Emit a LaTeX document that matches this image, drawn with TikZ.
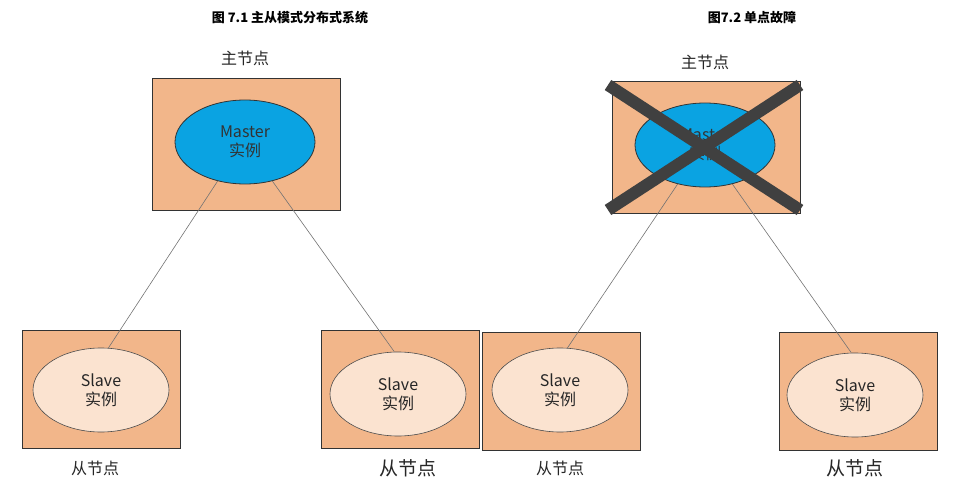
\documentclass[tikz,border=0pt]{standalone}
\usepackage{fontspec}
\setmainfont{Noto Sans CJK SC}
\usetikzlibrary{shapes.geometric}
\definecolor{boxc}{HTML}{F2B68A}
\definecolor{mast}{HTML}{0AA3E2}
\definecolor{slv}{HTML}{FBE3D0}
\tikzset{x=1pt,y=-1pt,
 nbox/.style={draw=black!80,fill=boxc,line width=0.6pt,minimum width=158pt,minimum height=118pt,inner sep=0},
 mbox/.style={nbox,minimum width=188pt,minimum height=132pt},
 mell/.style={ellipse,draw=black!80,fill=mast,line width=0.8pt,minimum width=140pt,minimum height=84pt,align=center,font=\fontsize{16}{19}\selectfont,text=black!80},
 sell/.style={ellipse,draw=black!70,fill=slv,line width=0.6pt,minimum width=136pt,minimum height=84pt,align=center,font=\fontsize{16}{19}\selectfont,text=black!85},
 lab/.style={font=\fontsize{16}{19}\selectfont,text=black!85},
 conn/.style={draw=black!55,line width=0.6pt},
 cross/.style={draw=black!75,line width=12pt}}
\begin{document}
\begin{tikzpicture}
\useasboundingbox (0,0) rectangle (959,492);
\node[font=\bfseries\fontsize{13}{15}\selectfont] (t1) at (290,18) {图 7.1 主从模式分布式系统};
\node[font=\bfseries\fontsize{13}{15}\selectfont] (t2) at (752,18) {图7.2 单点故障};
% left
\node[mbox] (mb1) at (246,144) {};
\node[mell] (m1) at (245,142) {Master\\实例};
\node[lab] (lm1) at (245,58) {主节点};
\node[nbox] (sb1) at (101,389) {};
\node[sell] (s1) at (101,390) {Slave\\实例};
\node[lab] (ls1) at (95,468) {从节点};
\node[nbox] (sb2) at (400,389) {};
\node[sell] (s2) at (398,394) {Slave\\实例};
\node[lab,font=\fontsize{19}{22}\selectfont] (ls2) at (408,468) {从节点};
\draw[conn] (m1.-125) -- (s1.80);
\draw[conn] (m1.-55) -- (s2.95);
% right
\node[mbox] (mb2) at (706,147) {};
\node[mell] (m2) at (705,145) {Master\\实例};
\node[lab] (lm2) at (705,62) {主节点};
\node[nbox] (sb3) at (561,391) {};
\node[sell] (s3) at (560,390) {Slave\\实例};
\node[lab] (ls3) at (560,468) {从节点};
\node[nbox] (sb4) at (858,391) {};
\node[sell] (s4) at (855,395) {Slave\\实例};
\node[lab,font=\fontsize{19}{22}\selectfont] (ls4) at (855,468) {从节点};
\draw[conn] (m2.-125) -- (s3.80);
\draw[conn] (m2.-55) -- (s4.95);
\coordinate (c1) at (608,85); \coordinate (c2) at (800,210);
\coordinate (c3) at (800,85); \coordinate (c4) at (608,210);
\draw[cross] (c1) -- (c2);
\draw[cross] (c3) -- (c4);
\end{tikzpicture}
\end{document}
